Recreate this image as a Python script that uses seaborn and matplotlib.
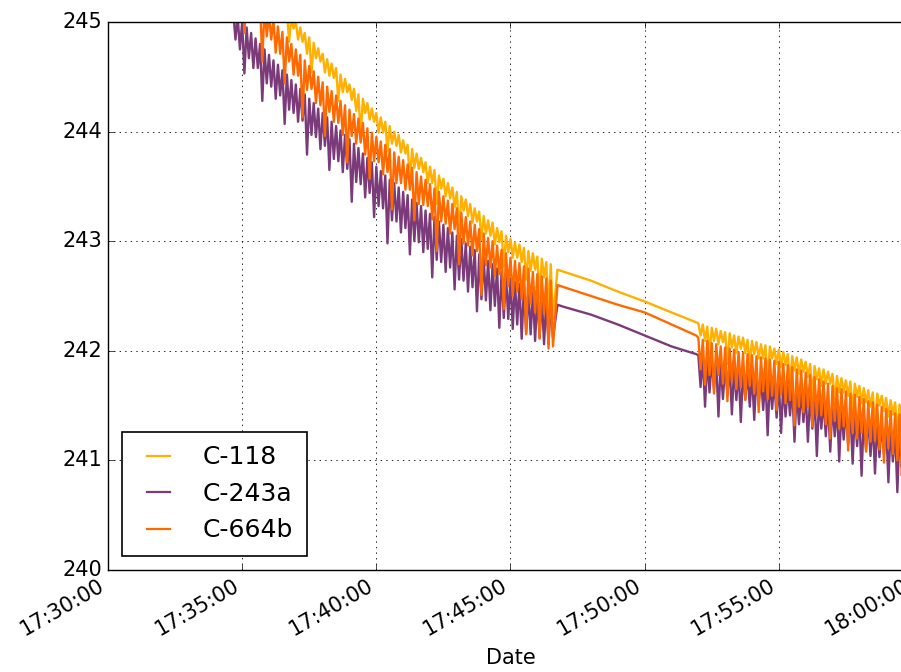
import numpy as np
import pandas as pd
import matplotlib
matplotlib.use("Agg")
import matplotlib.pyplot as plt
import matplotlib.dates as mdates
from matplotlib.ticker import ScalarFormatter
from matplotlib.legend_handler import HandlerLine2D
from matplotlib.lines import Line2D
import seaborn as sns

# ---------------- data ----------------
series_names = ["C-118", "C-243a", "C-664b"]
series_colors = ["#ffb000", "#7b3a79", "#ff6a00"]

day = "2016-01-01 "
seg1_start = day + "17:34:40"   # first noisy stretch: upper readings every 10 s
seg2_start = day + "17:52:00"   # second noisy stretch
gap_times = ["17:46:45", "17:47:00", "17:48:00", "17:49:00", "17:50:00", "17:51:00", "17:51:55"]

# ---- stretch 1: upper readings (hi) and the lower readings 5 s later (lo)
c118_s1_hi = [245.70, 245.65, 245.60, 245.55, 245.50, 245.45, 245.40, 245.35, 245.30, 245.25,
              245.20, 245.15, 245.10, 245.05, 245.00, 244.95, 244.90, 244.86, 244.81, 244.76,
              244.71, 244.66, 244.62, 244.58, 244.52, 244.48, 244.43, 244.39, 244.34, 244.30,
              244.26, 244.21, 244.17, 244.13, 244.09, 244.05, 244.00, 243.97, 243.92, 243.88,
              243.84, 243.80, 243.76, 243.72, 243.68, 243.65, 243.60, 243.57, 243.53, 243.49,
              243.45, 243.41, 243.38, 243.34, 243.30, 243.27, 243.23, 243.19, 243.17, 243.12,
              243.09, 243.05, 243.02, 242.99, 242.97, 242.94, 242.91, 242.89, 242.86, 242.84,
              242.81, 242.79]
c118_s1_lo = [245.58, 245.49, 245.30, 245.44, 245.36, 245.27, 245.27, 245.00, 245.15, 245.13,
              245.03, 245.01, 244.82, 244.94, 244.84, 244.82, 244.71, 244.54, 244.67, 244.64,
              244.54, 244.51, 244.49, 244.28, 244.36, 244.36, 244.29, 244.19, 243.97, 244.17,
              244.11, 244.09, 243.99, 243.99, 243.82, 243.89, 243.87, 243.81, 243.80, 243.55,
              243.67, 243.66, 243.63, 243.53, 243.53, 243.34, 243.48, 243.41, 243.39, 243.31,
              243.10, 243.28, 243.23, 243.17, 243.18, 243.01, 243.07, 243.05, 242.97, 242.99,
              242.77, 242.90, 242.85, 242.85, 242.81, 242.65, 242.73, 242.74, 242.48, 242.67,
              242.37, 242.29]

c243a_s1_hi = [245.10, 245.05, 245.00, 244.95, 244.90, 244.85, 244.80, 244.75, 244.70, 244.65,
               244.61, 244.56, 244.52, 244.47, 244.43, 244.39, 244.34, 244.30, 244.26, 244.21,
               244.17, 244.13, 244.09, 244.05, 244.01, 243.97, 243.93, 243.89, 243.85, 243.80,
               243.76, 243.72, 243.68, 243.64, 243.60, 243.56, 243.53, 243.49, 243.45, 243.42,
               243.38, 243.35, 243.32, 243.28, 243.25, 243.22, 243.18, 243.15, 243.12, 243.08,
               243.05, 243.02, 242.98, 242.95, 242.92, 242.88, 242.85, 242.82, 242.79, 242.75,
               242.72, 242.69, 242.66, 242.63, 242.61, 242.58, 242.55, 242.53, 242.50, 242.48,
               242.46, 242.44]
c243a_s1_lo = [244.84, 244.75, 244.53, 244.67, 244.58, 244.58, 244.28, 244.44, 244.41, 244.30,
               244.33, 244.07, 244.20, 244.17, 244.09, 244.10, 243.79, 243.97, 243.95, 243.84,
               243.87, 243.65, 243.75, 243.73, 243.63, 243.66, 243.36, 243.54, 243.52, 243.40,
               243.44, 243.22, 243.32, 243.30, 242.98, 243.19, 243.18, 243.08, 243.12, 242.88,
               243.00, 242.99, 242.90, 242.93, 242.67, 242.83, 242.81, 242.72, 242.76, 242.56,
               242.65, 242.64, 242.54, 242.58, 242.36, 242.47, 242.46, 242.37, 242.41, 242.21,
               242.30, 242.29, 242.20, 242.24, 242.11, 242.16, 242.15, 242.09, 242.12, 242.06,
               242.06, 242.12]

c664b_s1_hi = [245.50, 245.45, 245.40, 245.35, 245.29, 245.24, 245.18, 245.13, 245.07, 245.02,
               244.96, 244.91, 244.86, 244.80, 244.75, 244.70, 244.65, 244.60, 244.55, 244.50,
               244.45, 244.41, 244.37, 244.33, 244.28, 244.24, 244.20, 244.16, 244.12, 244.08,
               244.03, 243.99, 243.95, 243.91, 243.88, 243.84, 243.81, 243.77, 243.74, 243.70,
               243.67, 243.63, 243.59, 243.56, 243.52, 243.48, 243.45, 243.41, 243.37, 243.34,
               243.30, 243.26, 243.22, 243.18, 243.15, 243.11, 243.07, 243.03, 243.00, 242.96,
               242.92, 242.89, 242.85, 242.82, 242.80, 242.77, 242.75, 242.72, 242.70, 242.68,
               242.66, 242.64]
c664b_s1_lo = [245.28, 245.18, 244.90, 245.11, 245.00, 245.03, 244.64, 244.87, 244.84, 244.72,
               244.71, 244.44, 244.64, 244.52, 244.51, 244.13, 244.38, 244.39, 244.26, 244.24,
               243.96, 244.18, 244.09, 244.08, 243.97, 243.72, 243.96, 243.89, 243.90, 243.79,
               243.57, 243.73, 243.72, 243.61, 243.63, 243.29, 243.53, 243.53, 243.47, 243.47,
               243.19, 243.34, 243.33, 243.32, 243.20, 242.91, 243.18, 243.16, 243.07, 243.11,
               242.79, 242.98, 242.96, 242.87, 242.91, 242.51, 242.78, 242.76, 242.68, 242.70,
               242.38, 242.59, 242.50, 242.54, 242.47, 242.15, 242.43, 242.35, 242.11, 242.34,
               242.02, 242.04]

# ---- quiet stretch between the two noisy stretches
c118_gap = [242.74, 242.72, 242.64, 242.54, 242.45, 242.35, 242.26]
c243a_gap = [242.42, 242.40, 242.33, 242.24, 242.14, 242.04, 241.97]
c664b_gap = [242.60, 242.58, 242.50, 242.42, 242.35, 242.24, 242.14]

# ---- stretch 2
c118_s2_hi = [242.25, 242.24, 242.22, 242.21, 242.20, 242.18, 242.17, 242.16, 242.14, 242.13,
              242.12, 242.10, 242.09, 242.08, 242.06, 242.05, 242.04, 242.02, 242.01, 241.99,
              241.97, 241.95, 241.94, 241.92, 241.90, 241.88, 241.86, 241.84, 241.83, 241.81,
              241.79, 241.77, 241.75, 241.73, 241.72, 241.70, 241.68, 241.66, 241.64, 241.62,
              241.61, 241.59, 241.57, 241.55, 241.53, 241.51, 241.50, 241.48, 241.46]
c118_s2_lo = [242.14, 242.09, 241.97, 242.09, 242.06, 242.08, 241.88, 242.03, 241.98, 242.02,
              241.98, 241.87, 241.97, 241.93, 241.93, 241.74, 241.93, 241.88, 241.85, 241.87,
              241.71, 241.82, 241.79, 241.81, 241.76, 241.58, 241.74, 241.68, 241.70, 241.70,
              241.55, 241.62, 241.62, 241.59, 241.44, 241.58, 241.52, 241.53, 241.49, 241.30,
              241.50, 241.45, 241.40, 241.42, 241.26, 241.36, 241.38, 241.32, 241.17]

c243a_s2_hi = [241.96, 241.95, 241.93, 241.92, 241.91, 241.89, 241.88, 241.87, 241.85, 241.84,
               241.83, 241.81, 241.80, 241.79, 241.77, 241.76, 241.75, 241.73, 241.72, 241.70,
               241.68, 241.67, 241.65, 241.64, 241.62, 241.60, 241.58, 241.57, 241.55, 241.54,
               241.52, 241.50, 241.48, 241.47, 241.45, 241.44, 241.42, 241.40, 241.38, 241.37,
               241.35, 241.34, 241.32, 241.30, 241.28, 241.27, 241.25, 241.24, 241.22]
c243a_s2_lo = [241.67, 241.49, 241.62, 241.65, 241.40, 241.56, 241.60, 241.42, 241.55, 241.35,
               241.56, 241.49, 241.37, 241.50, 241.46, 241.23, 241.47, 241.39, 241.25, 241.40,
               241.41, 241.17, 241.33, 241.35, 241.17, 241.29, 241.04, 241.29, 241.22, 241.08,
               241.22, 240.99, 241.19, 241.15, 240.97, 241.13, 240.86, 241.10, 241.04, 240.88,
               241.03, 241.06, 240.80, 240.99, 240.71, 240.94, 240.90, 240.73, 240.63]

c664b_s2_hi = [242.12, 242.10, 242.09, 242.07, 242.06, 242.04, 242.03, 242.02, 242.01, 241.99,
               241.98, 241.97, 241.96, 241.95, 241.94, 241.93, 241.92, 241.91, 241.90, 241.88,
               241.87, 241.85, 241.83, 241.82, 241.80, 241.78, 241.76, 241.74, 241.72, 241.70,
               241.68, 241.66, 241.65, 241.63, 241.61, 241.60, 241.58, 241.56, 241.54, 241.53,
               241.51, 241.49, 241.47, 241.45, 241.43, 241.42, 241.40, 241.38, 241.36]
c664b_s2_lo = [241.83, 241.69, 241.78, 241.61, 241.78, 241.70, 241.54, 241.72, 241.65, 241.67,
               241.55, 241.68, 241.61, 241.44, 241.63, 241.56, 241.59, 241.46, 241.60, 241.52,
               241.55, 241.32, 241.49, 241.44, 241.49, 241.31, 241.41, 241.41, 241.33, 241.20,
               241.36, 241.29, 241.31, 241.09, 241.25, 241.20, 241.25, 241.08, 241.17, 241.18,
               241.10, 240.98, 241.11, 241.06, 241.00, 240.86, 241.02, 240.97, 240.87]

y_ticks = [240, 241, 242, 243, 244, 245]
x_start, x_end = day + "17:30:00", day + "18:00:00"

# ---------------- assemble long table ----------------
def interleave(hi, lo):
    out = np.empty(len(hi) + len(lo))
    out[0::2] = hi
    out[1::2] = lo
    return out

def stretch_times(start, n):
    hi_t = pd.date_range(start, periods=n, freq="10s")
    lo_t = hi_t + pd.Timedelta(seconds=5)
    t = np.empty(2 * n, dtype="datetime64[ns]")
    t[0::2] = hi_t.values
    t[1::2] = lo_t.values
    return t

raw = {
    "C-118": (c118_s1_hi, c118_s1_lo, c118_gap, c118_s2_hi, c118_s2_lo),
    "C-243a": (c243a_s1_hi, c243a_s1_lo, c243a_gap, c243a_s2_hi, c243a_s2_lo),
    "C-664b": (c664b_s1_hi, c664b_s1_lo, c664b_gap, c664b_s2_hi, c664b_s2_lo),
}
frames = []
for name in series_names:
    s1h, s1l, g, s2h, s2l = raw[name]
    t = np.concatenate([stretch_times(seg1_start, len(s1h)),
                        pd.to_datetime([day + x for x in gap_times]).values,
                        stretch_times(seg2_start, len(s2h))])
    v = np.concatenate([interleave(s1h, s1l), np.array(g), interleave(s2h, s2l)])
    frames.append(pd.DataFrame({"Date": t, "value": v, "series": name}))
df = pd.concat(frames, ignore_index=True)

# ---------------- plot ----------------
plt.style.use("classic")
plt.rcParams["figure.facecolor"] = "white"
plt.rcParams["savefig.facecolor"] = "white"
plt.rcParams["font.family"] = ["DejaVu Sans"]

fig = plt.figure(figsize=(9.01, 6.72), dpi=100)
ax = fig.add_axes([108 / 901, 102 / 672, 805 / 901, 548 / 672])

sns.lineplot(data=df, x="Date", y="value", hue="series", hue_order=series_names,
             palette=dict(zip(series_names, series_colors)), estimator=None,
             sort=False, linewidth=1.7, ax=ax, legend=False)

ax.set_xlim(pd.Timestamp(x_start), pd.Timestamp(x_end))
ax.set_ylim(y_ticks[0], y_ticks[-1])
ax.set_yticks(y_ticks)
ax.yaxis.set_major_formatter(ScalarFormatter(useOffset=False))
ax.xaxis.set_major_locator(mdates.MinuteLocator(byminute=range(0, 60, 5)))
ax.xaxis.set_major_formatter(mdates.DateFormatter("%H:%M:%S"))
ax.grid(True, linestyle=":", color="k", linewidth=0.6)
ax.set_axisbelow(True)
ax.set_xlabel("Date", fontsize=15, labelpad=6)
ax.set_ylabel("")
ax.tick_params(labelsize=15)
plt.setp(ax.get_xticklabels(), rotation=30, ha="right")

handles = [Line2D([], [], color=c, linewidth=1.6) for c in series_colors]
leg = ax.legend(handles, series_names, loc="lower left", bbox_to_anchor=(14 / 805, 14 / 548),
                borderaxespad=0, fontsize=18, handlelength=1.65, handletextpad=1.04,
                labelspacing=0.5, borderpad=0.55, frameon=True, fancybox=False,
                handler_map={Line2D: HandlerLine2D(xpad=0.13)})
leg.get_frame().set_edgecolor("black")
leg.get_frame().set_linewidth(1.2)

fig.savefig("out.png", dpi=100)
